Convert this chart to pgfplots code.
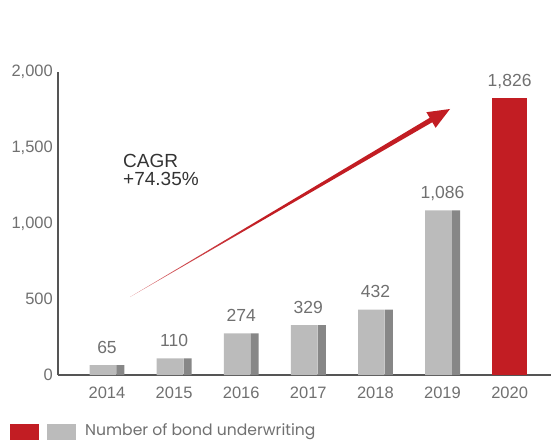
\documentclass[border=0pt]{standalone}
\usepackage{pgfplots}
\pgfplotsset{compat=1.18}
\usepackage{fontspec}
\setmainfont{Liberation Sans}
\newfontfamily\legfont{Poppins}
\definecolor{barred}{HTML}{C21D23}
\definecolor{lightgray}{HTML}{BBBBBB}
\definecolor{darkgray}{HTML}{878787}
\definecolor{axisgray}{HTML}{555555}
\definecolor{txtgray}{HTML}{707070}
\pgfdeclarehorizontalshading{arrowshade}{100bp}{color(0bp)=(barred!5);
  color(20bp)=(barred!55); color(45bp)=(barred); color(100bp)=(barred)}

\begin{document}
\begin{tikzpicture}
\useasboundingbox (0pt,0pt) rectangle (551pt,-441pt);
\begin{axis}[
    at={(58pt,-375pt)}, anchor=south west,
    scale only axis,
    width=493pt, height=303pt,
    xmin=-0.730, xmax=6.617,
    ymin=0, ymax=2000,
    axis x line*=bottom, axis y line*=left,
    axis line style={axisgray, line width=1.5pt},
    xtick={0,...,6},
    xticklabels={2014,2015,2016,2017,2018,2019,2020},
    ytick={0,500,...,2000},
    major tick length=0pt,
    tick style={draw=none},
    scaled y ticks=false,
    /pgf/number format/.cd, 1000 sep={,}, assume math mode=true,
    /pgfplots/.cd,
    ticklabel style={font=\fontsize{16.5}{19}\selectfont, text=txtgray},
    xticklabel style={anchor=north, inner sep=0pt, yshift=-11.5pt},
    yticklabel style={anchor=east, inner sep=0pt, xshift=-5pt},
    ybar,
    clip=false,
]
% front faces
\addplot[fill=lightgray, draw=none, bar width=26.7pt, bar shift=-4pt]
  coordinates {(0,65) (1,110) (2,274) (3,329) (4,432) (5,1086)};
% side faces
\addplot[fill=darkgray, draw=none, bar width=8pt, bar shift=13.5pt]
  coordinates {(0,65) (1,110) (2,274) (3,329) (4,432) (5,1086)};
% value labels
\addplot[draw=none, fill=none, bar width=35pt, bar shift=0pt,
  nodes near coords,
  every node near coord/.append style={anchor=base, inner sep=0pt, yshift=12pt,
     font=\fontsize{17.5}{20}\selectfont, text=txtgray}]
  coordinates {(0,65) (1,110) (2,274) (3,329) (4,432) (5,1086)};
% 2020
\addplot[fill=barred, draw=none, bar width=35pt, bar shift=0pt,
  nodes near coords,
  every node near coord/.append style={anchor=base, inner sep=0pt, yshift=12pt,
     font=\fontsize{17.5}{20}\selectfont, text=txtgray}]
  coordinates {(6,1826)};
\end{axis}

% CAGR arrow
\shade[shading=arrowshade]
  (130pt,-297pt) -- (432.3pt,-122.2pt) -- (435.6pt,-127.8pt) -- (450pt,-109pt)
  -- (426.4pt,-112.2pt) -- (429.7pt,-117.8pt) -- cycle;
\node[anchor=base west, inner sep=0pt, text=black!80,
      font=\fontsize{19}{19}\selectfont] at (123pt,-167pt) {CAGR};
\node[anchor=base west, inner sep=0pt, text=black!80,
      font=\fontsize{19}{19}\selectfont] at (123pt,-185pt) {+74.35\%};

% legend
\fill[barred] (10pt,-424pt) rectangle (39pt,-440pt);
\fill[lightgray] (47pt,-424pt) rectangle (76pt,-440pt);
\node[anchor=west, inner sep=0pt, text=txtgray,
      font=\legfont\fontsize{15.6}{18}\selectfont] at (85pt,-432pt)
  {Number of bond underwriting};
\end{tikzpicture}
\end{document}
